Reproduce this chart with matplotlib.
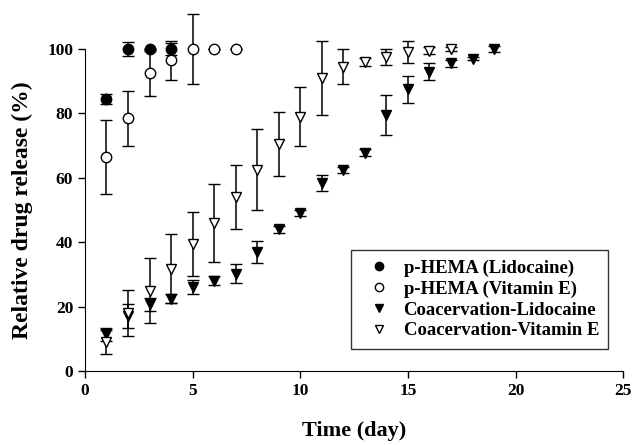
import matplotlib
matplotlib.use('Agg')
import matplotlib.pyplot as plt
from matplotlib.lines import Line2D

# p-HEMA (Lidocaine)
hema_lido_day = [1, 2, 3, 4]
hema_lido = [84.5, 100, 100, 100]
hema_lido_err = [1.5, 2.3, 0, 2.0]

# p-HEMA (Vitamin E)
hema_vite_day = [1, 2, 3, 4, 5, 6, 7]
hema_vite = [66.5, 78.5, 92.5, 96.5, 100, 100, 100]
hema_vite_err = [11.5, 8.5, 7.0, 6.0, 11.0, 0, 0]

# Coacervation-Lidocaine
coac_lido_day = list(range(1, 20))
coac_lido = [11.5, 17.0, 20.8, 22.5, 26.2, 28.0, 30.3, 37.0, 44.0, 49.0,
             58.5, 62.5, 67.8, 79.5, 87.5, 93.0, 95.5, 97.0, 100.0]
coac_lido_err = [2.0, 3.7, 2.0, 1.5, 2.2, 1.4, 2.9, 3.5, 1.0, 1.0,
                 2.5, 1.0, 1.0, 6.3, 4.2, 2.5, 1.0, 0.5, 1.0]

# Coacervation-Vitamin E
coac_vite_day = list(range(1, 18))
coac_vite = [9.0, 18.0, 25.0, 31.8, 39.5, 46.0, 54.0, 62.5, 70.5, 79.0,
             91.0, 94.5, 96.0, 97.5, 99.0, 99.5, 100.0]
coac_vite_err = [3.7, 7.2, 10.2, 10.8, 9.9, 12.0, 10.0, 12.5, 10.0, 9.2,
                 11.5, 5.5, 1.3, 2.5, 3.5, 1.0, 0.5]

labels = ['p-HEMA (Lidocaine)', 'p-HEMA (Vitamin E)',
          'Coacervation-Lidocaine', 'Coacervation-Vitamin E']

plt.rcParams['font.family'] = ['Liberation Serif', 'DejaVu Serif']
plt.rcParams['font.weight'] = 'bold'

fig = plt.figure(figsize=(6.34, 4.45), dpi=100)
ax = fig.add_axes([0.134, 0.166, 0.849, 0.724])

common = dict(ecolor='black', elinewidth=1.1, capsize=4.5, capthick=1.1,
              linestyle='none', markersize=7.5, markeredgecolor='black',
              markeredgewidth=1.0, clip_on=False)

ax.errorbar(hema_lido_day, hema_lido, yerr=hema_lido_err, marker='o',
            markerfacecolor='black', **common)
ax.errorbar(hema_vite_day, hema_vite, yerr=hema_vite_err, marker='o',
            markerfacecolor='white', **common)
ax.errorbar(coac_lido_day, coac_lido, yerr=coac_lido_err, marker='v',
            markerfacecolor='black', **common)
ax.errorbar(coac_vite_day, coac_vite, yerr=coac_vite_err, marker='v',
            markerfacecolor='white', **common)

ax.set_xlim(0, 25)
ax.set_ylim(0, 100)
ax.set_xticks([0, 5, 10, 15, 20, 25])
ax.set_yticks([0, 20, 40, 60, 80, 100])
ax.spines['top'].set_visible(False)
ax.spines['right'].set_visible(False)
ax.tick_params(direction='out', length=5, width=1, labelsize=12.5)
for lab in ax.get_xticklabels() + ax.get_yticklabels():
    lab.set_fontweight('bold')

ax.set_xlabel('Time (day)', fontsize=16, fontweight='bold', labelpad=16)
ax.set_ylabel('Relative drug release (%)', fontsize=17, fontweight='bold',
              labelpad=10)

handles = [
    Line2D([], [], linestyle='none', marker='o', markersize=6,
           markerfacecolor='black', markeredgecolor='black'),
    Line2D([], [], linestyle='none', marker='o', markersize=6,
           markerfacecolor='white', markeredgecolor='black'),
    Line2D([], [], linestyle='none', marker='v', markersize=6,
           markerfacecolor='black', markeredgecolor='black'),
    Line2D([], [], linestyle='none', marker='v', markersize=6,
           markerfacecolor='white', markeredgecolor='black'),
]
leg = ax.legend(handles, labels, loc='lower right',
                bbox_to_anchor=(0.99, 0.04),
                fancybox=False, edgecolor='#333333', framealpha=1,
                prop={'size': 13.5, 'weight': 'bold'},
                handletextpad=0.3, borderpad=0.5, labelspacing=0.2,
                handlelength=2.0)
leg.get_frame().set_linewidth(1.0)

plt.savefig('out.png', dpi=100)
